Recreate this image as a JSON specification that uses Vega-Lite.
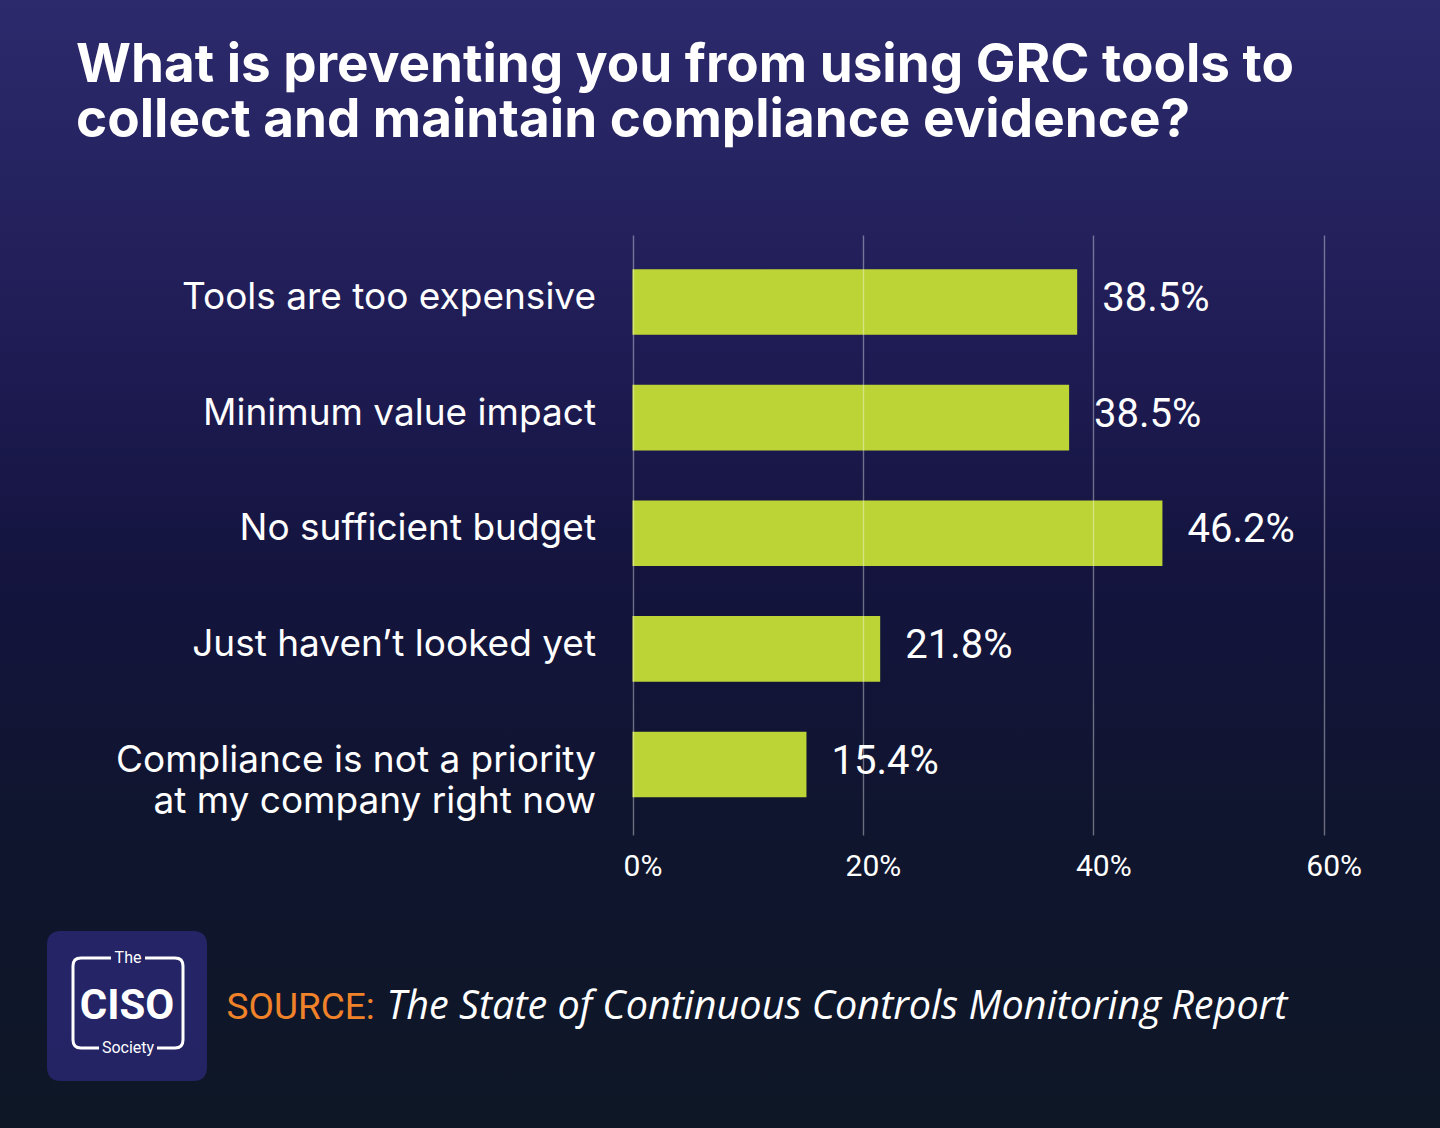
{
  "$schema": "https://vega.github.io/schema/vega-lite/v6.json",
  "width": 1440,
  "height": 1128,
  "autosize": {"type": "none"},
  "padding": 0,
  "background": "#0e1726",
  "title": {
    "text": ["What is preventing you from using GRC tools to", "collect and maintain compliance evidence?"],
    "anchor": "start",
    "frame": "group",
    "orient": "top",
    "dx": 76,
    "offset": -148,
    "baseline": "top",
    "font": "Inter",
    "fontSize": 53,
    "fontWeight": "bold",
    "color": "#ffffff",
    "lineHeight": 55
  },
  "data": {
    "values": [
      {"reason": "Tools are too expensive", "value": 38.6, "label": "38.5%"},
      {"reason": "Minimum value impact", "value": 37.9, "label": "38.5%"},
      {"reason": "No sufficient budget", "value": 46.0, "label": "46.2%"},
      {"reason": "Just haven’t looked yet", "value": 21.5, "label": "21.8%"},
      {"reason": "Compliance is not a priority at my company right now", "value": 15.1, "label": "15.4%"}
    ]
  },
  "encoding": {
    "y": {
      "field": "reason",
      "type": "nominal",
      "scale": {
        "domain": ["Tools are too expensive", "Minimum value impact", "No sufficient budget", "Just haven’t looked yet", "Compliance is not a priority at my company right now"],
        "range": [235, 835],
        "paddingInner": 0.4325,
        "paddingOuter": 0.311,
        "align": 0.476
      },
      "axis": {
        "orient": "left",
        "offset": -632.5,
        "title": null,
        "domain": false,
        "ticks": false,
        "grid": false,
        "labelFont": "Inter",
        "labelFontSize": 37,
        "labelColor": "#ffffff",
        "labelPadding": 37,
        "labelOffset": -4,
        "labelLimit": 900,
        "labelLineHeight": 41,
        "labelExpr": "datum.label == 'Compliance is not a priority at my company right now' ? ['Compliance is not a priority', 'at my company right now'] : datum.label"
      }
    }
  },
  "layer": [
    {
      "mark": {"type": "bar", "color": "#bcd435"},
      "encoding": {
        "x": {
          "field": "value",
          "type": "quantitative",
          "scale": {"domain": [-54.905, 70.095], "nice": false, "zero": false},
          "axis": {
            "orient": "top",
            "offset": 0,
            "values": [0, 20, 40, 60],
            "grid": true,
            "gridColor": "#ffffff",
            "gridOpacity": 0.38,
            "gridWidth": 1.4,
            "labels": false,
            "ticks": false,
            "domain": false,
            "zindex": 1,
            "title": "SOURCE:",
            "titleX": 226,
            "titleY": 1018,
            "titleAlign": "left",
            "titleBaseline": "alphabetic",
            "titleColor": "#f0822a",
            "titleFont": "Roboto",
            "titleFontSize": 37,
            "titleFontWeight": "normal"
          }
        }
      }
    },
    {
      "mark": {"type": "text", "align": "left", "baseline": "middle", "dx": 25, "dy": -3, "font": "Roboto", "fontSize": 40, "color": "#ffffff"},
      "encoding": {
        "x": {
          "field": "value",
          "type": "quantitative",
          "scale": {"domain": [-54.905, 70.095], "nice": false, "zero": false},
          "axis": {
            "orient": "bottom",
            "offset": -277,
            "values": [0, 20, 40, 60],
            "labelExpr": "datum.value + '%'",
            "labelFont": "Roboto",
            "labelFontSize": 30,
            "labelColor": "#ffffff",
            "labelPadding": 0,
            "labelBaseline": "top",
            "labelAlign": "center",
            "labelOffset": 10,
            "labelFlush": false,
            "labelOverlap": false,
            "grid": false,
            "ticks": false,
            "domain": false,
            "zindex": 1,
            "title": "The State of Continuous Controls Monitoring Report",
            "titleX": 386,
            "titleY": 167,
            "titleAlign": "left",
            "titleBaseline": "alphabetic",
            "titleFont": "Open Sans",
            "titleFontStyle": "italic",
            "titleFontSize": 39.6,
            "titleFontWeight": "normal",
            "titleColor": "#ffffff"
          }
        },
        "text": {"field": "label"}
      }
    },
    {
      "mark": {"type": "point", "filled": true, "color": "#2e2a80", "size": 0, "strokeWidth": 0},
      "encoding": {
        "x": {
          "field": "value",
          "type": "quantitative",
          "scale": {"domain": [-54.905, 70.095], "nice": false, "zero": false},
          "axis": null
        },
        "shape": {
          "datum": "CISO",
          "type": "nominal",
          "scale": {"range": ["M-0.825,-0.9375L0.825,-0.9375Q1,-0.9375 1,-0.7625L1,0.7625Q1,0.9375 0.825,0.9375L-0.825,0.9375Q-1,0.9375 -1,0.7625L-1,-0.7625Q-1,-0.9375 -0.825,-0.9375Z"]},
          "legend": {
            "orient": "none",
            "legendX": 46,
            "legendY": 925,
            "title": null,
            "padding": 0,
            "symbolSize": 25600,
            "symbolStrokeColor": "#b8d43c",
            "symbolStrokeWidth": 2,
            "labelFont": "Roboto",
            "labelFontWeight": "bold",
            "labelFontSize": 42,
            "labelColor": "#ffffff",
            "labelAlign": "center",
            "labelBaseline": "middle",
            "labelOffset": -81,
            "labelLimit": 300
          }
        }
      }
    },
    {
      "mark": {"type": "point", "filled": false, "color": "#ffffff", "size": 0, "strokeWidth": 3},
      "encoding": {
        "x": {
          "field": "value",
          "type": "quantitative",
          "scale": {"domain": [-54.905, 70.095], "nice": false, "zero": false},
          "axis": null
        },
        "opacity": {
          "datum": "Society",
          "type": "ordinal",
          "scale": {"range": [1, 1]},
          "legend": {
            "orient": "none",
            "legendX": 66.5,
            "legendY": 941.5,
            "title": null,
            "padding": 0,
            "symbolSize": 14400,
            "symbolType": "M-0.283,-0.75L-0.783,-0.75Q-0.9167,-0.75 -0.9167,-0.617L-0.9167,0.617Q-0.9167,0.75 -0.783,0.75L-0.483,0.75M0.483,0.75L0.783,0.75Q0.9167,0.75 0.9167,0.617L0.9167,-0.617Q0.9167,-0.75 0.783,-0.75L0.283,-0.75",
            "symbolStrokeWidth": 3,
            "labelExpr": "['The', 'Society']",
            "labelFont": "Roboto",
            "labelFontSize": 16,
            "labelColor": "#ffffff",
            "labelAlign": "center",
            "labelBaseline": "line-bottom",
            "labelOffset": -61.5,
            "labelLimit": 300,
            "encode": {"labels": {"update": {"lineHeight": {"value": 90}}}}
          }
        }
      }
    }
  ],
  "resolve": {"axis": {"x": "independent"}},
  "config": {
    "style": {"guide-label": {"lineHeight": 90}},
    "view": {
      "stroke": null,
      "fill": {
        "gradient": "linear",
        "x1": 0, "y1": 0, "x2": 0, "y2": 1,
        "stops": [
          {"offset": 0, "color": "#2c2a6c"},
          {"offset": 0.3, "color": "#1f1c55"},
          {"offset": 0.5, "color": "#14143f"},
          {"offset": 0.72, "color": "#10152f"},
          {"offset": 1, "color": "#0e1726"}
        ]
      }
    }
  }
}
